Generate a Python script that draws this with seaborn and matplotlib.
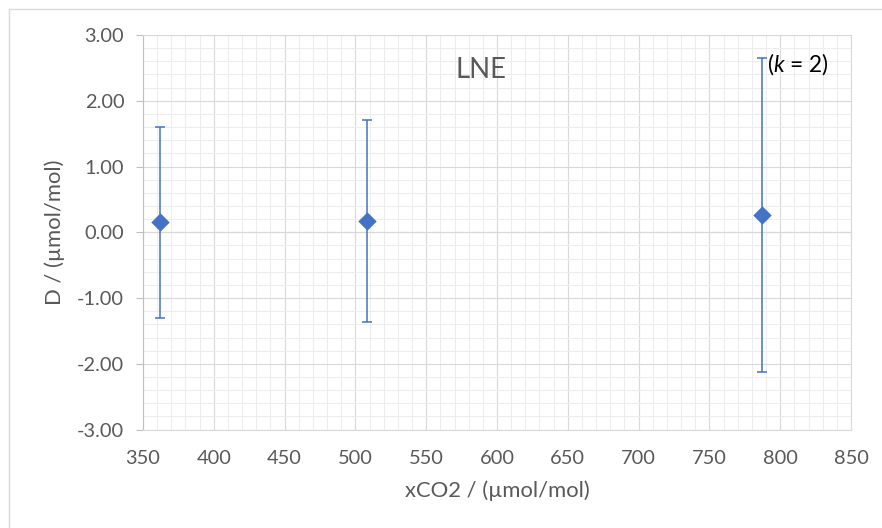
import matplotlib
matplotlib.use("Agg")
import matplotlib.pyplot as plt
import seaborn as sns
import pandas as pd
import numpy as np
from matplotlib.ticker import MultipleLocator
from matplotlib.patches import Rectangle

# ---- data ----
xco2 = [362, 508, 787]
deviation = [0.15, 0.17, 0.26]
uncertainty = [1.45, 1.53, 2.39]
x_ticks = [350, 400, 450, 500, 550, 600, 650, 700, 750, 800, 850]
y_ticks = [-3.0, -2.0, -1.0, 0.0, 1.0, 2.0, 3.0]

sns.set_theme(style="white")
plt.rcParams['font.family'] = ['Lato', 'DejaVu Sans']
plt.rcParams['mathtext.fontset'] = 'custom'
plt.rcParams['mathtext.rm'] = 'Lato'
plt.rcParams['mathtext.it'] = 'Lato:italic'

fig = plt.figure(figsize=(8.82, 5.28), dpi=100)
fig.patch.set_facecolor('white')
ax = fig.add_axes([143/882, 1-429.6/528, 708/882, 394.6/528])
ax.set_facecolor('white')

# chart area border
fig.patches.append(Rectangle((9/882, -0.2), 1.2, 1.2 - 9/528, transform=fig.transFigure,
                             fill=False, edgecolor='#d9d9d9', linewidth=1.0, zorder=0))

df = pd.DataFrame({'x': xco2, 'D': deviation, 'U': uncertainty})

ax.errorbar(df['x'], df['D'], yerr=df['U'], fmt='none', ecolor='#4472C4',
            elinewidth=1.1, capsize=3.8, capthick=1.1, zorder=3)
sns.scatterplot(data=df, x='x', y='D', marker='D', s=88, color='#4472C4',
                edgecolor='#4472C4', linewidth=0, ax=ax, zorder=4)

ax.set_xlim(350, 850)
ax.set_ylim(-3, 3)
ax.set_xticks(x_ticks)
ax.set_yticks(y_ticks)
ax.set_yticklabels([f"{v:.2f}" for v in y_ticks])
ax.xaxis.set_minor_locator(MultipleLocator(10))
ax.yaxis.set_minor_locator(MultipleLocator(0.2))

ax.grid(which='minor', color='#ededed', linewidth=0.8, zorder=0)
ax.grid(which='major', color='#d9d9d9', linewidth=0.8, zorder=1)
ax.set_axisbelow(True)

for s in ['top', 'right', 'bottom']:
    ax.spines[s].set_color('#d9d9d9')
    ax.spines[s].set_linewidth(0.8)
ax.spines['left'].set_color('#bfbfbf')
ax.spines['left'].set_linewidth(0.8)

tick_fs = 14.4
ax.tick_params(axis='x', which='both', length=0, pad=15, labelsize=tick_fs, labelcolor='#595959')
ax.tick_params(axis='y', which='major', length=5, width=0.8, color='#bfbfbf', direction='out',
               pad=8.5, labelsize=tick_fs, labelcolor='#595959', left=True)
ax.tick_params(axis='y', which='minor', length=0)

# horizontal axis line crossing at y = 0
sec = ax.secondary_xaxis(0.5)
sec.set_alignment('bottom')
sec.set_xticks(x_ticks)
sec.tick_params(axis='x', which='major', length=4.5, width=0.8, color='#bfbfbf',
                direction='out', labelbottom=False, labeltop=False)
sec.spines['bottom'].set_color('#bfbfbf')
sec.spines['bottom'].set_linewidth(0.8)

ax.set_xlabel('xCO2 / (µmol/mol)', fontsize=15.8, color='#595959')
ax.set_ylabel('D / (µmol/mol)', fontsize=15.8, color='#595959')
ax.xaxis.set_label_coords(0.5, -0.130)
ax.yaxis.set_label_coords(-0.110, 0.5)

ax.text(589, 2.342, 'LNE', fontsize=19.8, color='#595959', ha='center', va='baseline', zorder=5)
ax.text(790.7, 2.442, r'($\mathit{k}$ = 2)', fontsize=16.3, color='black', ha='left', va='baseline', zorder=5)

fig.savefig('out.png', dpi=100, facecolor='white')
